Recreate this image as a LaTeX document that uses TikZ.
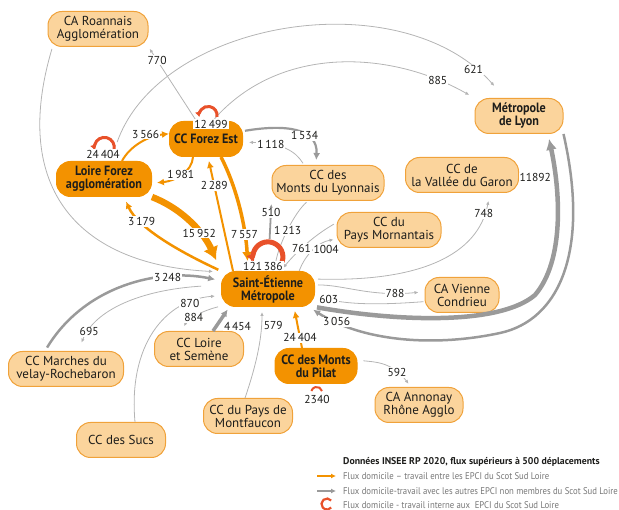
\documentclass[tikz,border=0pt]{standalone}
\usepackage{fontspec}
\setmainfont{PT Sans}
\newfontfamily\condfont{PT Sans}[FakeStretch=0.9, Ligatures=TeX]
\usetikzlibrary{arrows.meta,positioning,calc}

\definecolor{orfonce}{HTML}{F39200}
\definecolor{orclair}{HTML}{FBD49C}
\definecolor{orbord}{HTML}{F0A23A}
\definecolor{gris}{HTML}{9A9A9A}
\definecolor{grisclair}{HTML}{B4B4B4}
\definecolor{rouge}{HTML}{E8512A}
\definecolor{texte}{HTML}{1D1D1B}
\definecolor{legtexte}{HTML}{767676}

\newcommand\epcifont{\fontsize{13}{13}\selectfont}
\newcommand\scotfont{\condfont\bfseries\fontsize{13.5}{13}\selectfont}
\newcommand\valfont{\fontsize{11.5}{11.5}\selectfont}
\newcommand\legfont{\condfont\fontsize{9.7}{11}\selectfont}
\newcommand\legtitre{\bfseries\fontsize{9.8}{11}\selectfont}

\begin{document}
\begin{tikzpicture}[x=1pt, y=-1pt,
    epci/.style={draw=orbord, fill=orclair, line width=1pt, rounded corners=14pt, align=center, minimum height=35pt, inner xsep=4pt, inner ysep=2pt, font=\epcifont, text=texte},
    scot/.style={epci, draw=orfonce, fill=orfonce, font=\scotfont},
    flux/.style={draw=orfonce, -{Latex[length=7pt,width=7pt]}},
    autre/.style={draw=gris, -{Latex[length=7pt,width=7pt]}},
    fin/.style={draw=grisclair, line width=0.8pt, -{Latex[length=4pt,width=3.5pt]}},
    interne/.style={draw=rouge, -{Latex[length=5pt,width=7pt]}},
    val/.style={fill=white, inner sep=1pt, font=\valfont, text=texte},
    leg/.style={anchor=west, inner sep=0pt, font=\legfont, text=legtexte}
]
\useasboundingbox (0,0) rectangle (619,510);

% EPCI
\node[epci, minimum width=100pt] (roa) at (98,29) {CA Roannais\\Agglomération};
\node[epci, minimum width=88pt, font=\scotfont] (lyon) at (519,116) {Métropole\\de Lyon};
\node[scot, minimum width=73pt] (fe) at (206,139) {CC Forez Est};
\node[scot, minimum width=95pt] (lfa) at (104,179) {Loire Forez\\agglomération};
\node[epci, minimum width=112pt] (mly) at (328,183) {CC des\\Monts du Lyonnais};
\node[epci, minimum width=113pt] (gar) at (462,175) {CC de\\la Vallée du Garon};
\node[epci, minimum width=104pt] (mor) at (389,230) {CC du\\Pays Mornantais};
\node[scot, minimum width=93pt] (sem) at (268,289) {Saint-Étienne\\Métropole};
\node[epci, minimum width=74pt] (vie) at (462,295) {CA Vienne\\Condrieu};
\node[epci, minimum width=115pt] (mvr) at (66,369) {CC Marches du\\velay-Rochebaron};
\node[epci, minimum width=89pt] (lse) at (199,349) {CC Loire\\et Semène};
\node[scot, minimum width=82pt] (pil) at (316,366) {CC des Monts\\du Pilat};
\node[epci, minimum width=88pt] (ann) at (419,405) {CA Annonay\\Rhône Agglo};
\node[epci, minimum width=89pt] (mtf) at (248,416) {CC du Pays de\\Montfaucon};
\node[epci, minimum width=89pt] (suc) at (121,440) {CC des Sucs};

% flux avec les autres EPCI
\draw[fin, shorten >=2pt] (fe.118) -- node[val, pos=.82]{770} (roa.south east);
\draw[fin, shorten <=2pt, shorten >=8pt] ([xshift=5pt]roa.south west) .. controls (10,190) and (80,265) .. (sem.160);
\draw[fin, shorten <=20pt, shorten >=16pt] (lfa.70) .. controls (160,20) and (400,-20) .. node[val, pos=.91]{621} ([xshift=-14pt]lyon.north);
\draw[fin, shorten <=3pt, shorten >=6pt] (fe.70) .. controls (280,45) and (390,50) .. node[val, pos=.86]{885} (lyon.north west);
\draw[autre, line width=2.2pt, shorten <=2pt, shorten >=5pt] (fe.12) .. controls (285,124) and (318,128) .. node[val, pos=.62]{1\,534} ([xshift=-12pt]mly.north);
\draw[fin, shorten <=2pt, shorten >=6pt] ([xshift=-24pt]mly.north) .. controls (295,150) and (280,143) .. node[val, pos=.7]{1\,118} (fe.-5);
\draw[fin, shorten <=2pt, shorten >=4pt] ([xshift=-20pt]mly.south) .. controls (295,212) and (278,245) .. node[val, pos=.5]{1\,213} (sem.70);
\draw[autre, line width=1.8pt, shorten <=32pt, shorten >=3pt] (sem.north) -- node[val, pos=.83]{510} (mly.south west);
\draw[fin, shorten >=3pt] (sem.30) .. controls (305,255) and (318,242) .. node[val, pos=.8, below=2pt]{1004} (mor.190);
\draw[fin, shorten <=3pt, shorten >=4pt] (mor.172) .. controls (315,235) and (298,250) .. node[val, pos=.6]{761} (sem.55);
\draw[fin, shorten <=3pt, shorten >=8pt] (sem.12) .. controls (420,282) and (478,255) .. node[val, pos=.88]{748} ([xshift=28pt]gar.south);
\draw[fin, shorten <=3pt, shorten >=6pt] (sem.5) .. controls (345,285) and (370,297) .. node[val, pos=.8]{788} (vie.175);
\draw[fin, shorten <=1pt, shorten >=3pt] (vie.190) .. controls (380,305) and (345,305) .. node[val, pos=.85]{603} (sem.-8);
\draw[autre, line width=4.5pt, shorten <=2pt, shorten >=5pt, -{Latex[length=11pt,width=11pt]}] (sem.south east) .. controls (400,322) and (500,325) .. (535,295) .. controls (565,260) and (560,190) .. node[val, pos=.75, anchor=east, xshift=-1pt]{11892} ([xshift=29pt]lyon.south);
\draw[autre, line width=2.5pt, shorten >=5pt] (lyon.south east) .. controls (590,250) and (560,320) .. (500,333) .. controls (430,348) and (360,340) .. node[val, pos=.83]{3\,056} ([xshift=-6pt]sem.south east);
\draw[fin, shorten <=6pt, shorten >=4pt] (pil.8) .. controls (375,362) and (392,362) .. node[val, pos=.75]{592} ([xshift=-8pt]ann.north);
\draw[fin, shorten >=5pt] ([xshift=-3pt]mtf.north) .. controls (258,360) and (262,335) .. node[val, pos=.78, right=1pt]{579} ([xshift=-6pt]sem.south);
\draw[autre, line width=3.5pt, shorten >=3pt] ([xshift=14pt]lse.north) -- node[val, pos=.2, right=5pt]{4\,454} (sem.205);
\draw[fin, shorten <=3pt, shorten >=5pt] (sem.200) .. controls (205,310) and (188,318) .. node[val, pos=.6]{884} ([xshift=-17pt]lse.north);
\draw[fin, shorten >=6pt] ([xshift=14pt]suc.north) .. controls (128,345) and (165,300) .. node[val, pos=.8]{870} (sem.188);
\draw[fin, shorten <=20pt, shorten >=9pt] (sem.175) .. controls (140,290) and (95,310) .. node[val, pos=.83]{695} ([xshift=12pt]mvr.north);
\draw[autre, line width=2.5pt, shorten <=4pt, shorten >=6pt] ([xshift=-21pt]mvr.north) .. controls (85,285) and (160,268) .. node[val, pos=.72]{3\,248} (sem.170);

% flux entre les EPCI du Scot
\draw[flux, line width=2pt] ([xshift=18pt]lfa.north) .. controls (130,146) and (148,136) .. node[val, pos=.6, yshift=6pt]{3\,566} (fe.172);
\draw[flux, line width=2pt, shorten >=5pt] ([xshift=-13pt]fe.south) .. controls (192,172) and (175,181) .. node[val, pos=.5]{1\,981} (lfa.-5);
\draw[flux, line width=6.5pt, shorten >=12pt, -{Latex[length=13pt,width=16pt]}] (lfa.south east) .. controls (185,210) and (205,235) .. node[val, pos=.6]{15\,952} (sem.north west);
\draw[flux, line width=2.5pt, shorten <=3pt, shorten >=5pt] (sem.north west) .. controls (180,252) and (138,228) .. node[val, pos=.72]{3\,179} ([xshift=20pt]lfa.south);
\draw[flux, line width=2pt, shorten >=4pt] ([xshift=12pt]sem.north west) -- node[val, pos=.75]{2\,289} ([xshift=2pt]fe.south);
\draw[flux, line width=3.5pt, shorten >=10pt, -{Latex[length=9pt,width=10pt]}] ([xshift=15pt]fe.south) .. controls (238,190) and (246,230) .. node[val, pos=.7]{7\,557} ([xshift=-20pt]sem.north);
\draw[flux, line width=2pt, shorten >=4pt] ([xshift=-14pt]pil.north) -- node[val, pos=.25]{24\,404} ([xshift=26pt]sem.south);

% flux internes
\draw[interne, line width=3pt] ([shift={(11,-4)}]fe.north) arc[start angle=-10, end angle=190, radius=9pt];
\node[val] (fe-int) at ([shift={(5,3)}]fe.north) {12\,499};
\draw[interne, line width=3pt] ([shift={(10,-11)}]lfa.north) arc[start angle=-15, end angle=195, radius=10pt];
\node[val] (lfa-int) at ([shift={(-1,-7)}]lfa.north) {24\,404};
\draw[interne, line width=5pt, -{Latex[length=8pt,width=11pt]}] ([shift={(14,-9)}]sem.north) arc[start angle=-20, end angle=200, radius=15pt];
\node[val] (sem-int) at ([shift={(-5,-5)}]sem.north) {121\,386};
\draw[rouge, line width=2pt] ([shift={(6,7)}]pil.south) arc[start angle=15, end angle=165, radius=5.5pt];
\node[val] (pil-int) at ([shift={(1,15)}]pil.south) {2340};

% legende
\node[anchor=west, inner sep=0pt, font=\legtitre, text=texte] (legt) at (343,462) {Données INSEE RP 2020, flux supérieurs à 500 déplacements};
\node[leg] (leg1) at (343,476) {Flux domicile – travail entre les EPCI du Scot Sud Loire};
\coordinate (leg1a) at (317,476);
\draw[flux, line width=1.6pt, -{Latex[length=5pt,width=5pt]}] (leg1a) -- ([xshift=-7pt]leg1.west);
\node[leg] (leg2) at (343,491) {Flux domicile-travail avec les autres EPCI non membres du Scot Sud Loire};
\coordinate (leg2a) at (317,491);
\draw[autre, line width=1.6pt, -{Latex[length=5pt,width=5pt]}] (leg2a) -- ([xshift=-7pt]leg2.west);
\node[leg] (leg3) at (343,505) {Flux domicile - travail interne aux\ \ EPCI du Scot Sud Loire};
\draw[rouge, line width=2.2pt] ([shift={(-11.8,-4.5)}]leg3.west) arc[start angle=40, end angle=320, radius=5.5pt];
\end{tikzpicture}
\end{document}
